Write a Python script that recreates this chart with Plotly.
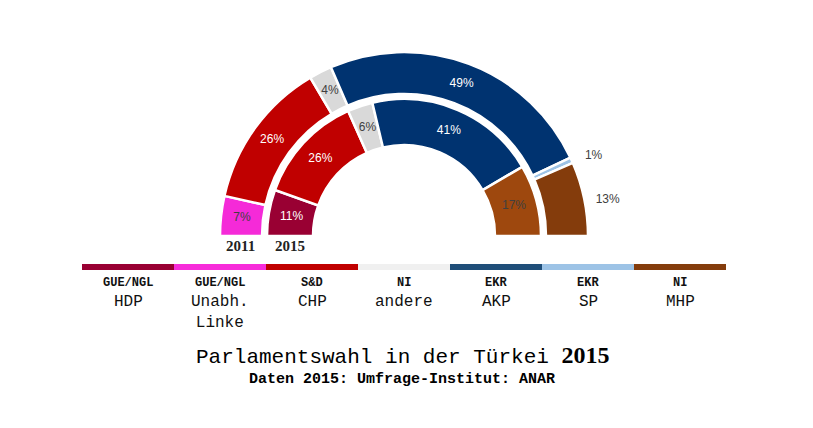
import plotly.graph_objects as go

# ---------------- data ----------------
parties_2011 = ["Unabh. Linke", "CHP", "andere", "AKP", "SP", "MHP"]
values_2011 = [7, 26, 4, 49, 1, 13]
colors_2011 = ["#F52AD8", "#C00000", "#D9D9D9", "#003370", "#9DC3E6", "#843C0C"]

parties_2015 = ["HDP", "CHP", "andere", "AKP", "MHP"]
values_2015 = [11, 26, 6, 41, 17]
colors_2015 = ["#990033", "#C00000", "#D9D9D9", "#003370", "#9E480E"]

legend_groups = ["GUE/NGL", "GUE/NGL", "S&D", "NI", "EKR", "EKR", "NI"]
legend_names = ["HDP", "Unabh.<br>Linke", "CHP", "andere", "AKP", "SP", "MHP"]
legend_colors = ["#990033", "#F72CDA", "#C00000", "#F0F0F0", "#1F4E79", "#9DC3E6", "#843C0C"]

title_text = "Parlamentswahl in der Türkei"
title_year = "2015"
subtitle_text = "Daten 2015: Umfrage-Institut: ANAR"
ring_labels = ["2011", "2015"]

# ---------------- layout constants ----------------
W, H = 813, 428
MONO = "'Courier New', 'Liberation Mono', monospace"
SERIF = "'Times New Roman', 'Liberation Serif', serif"
SANS = "Arial, 'Liberation Sans', sans-serif"

CX, CY = 404, 236          # centre of the half rings (px)
R_MAX = 226                # radial range (1 unit = 1 px)
OUT_IN, OUT_OUT = 142, 184
IN_IN, IN_OUT = 91, 137
R_OUTSIDE = 208


def arcs(values):
    total = float(sum(values))
    start = 0.0
    mids, widths = [], []
    for v in values:
        w = v / total * 180.0
        mids.append(start + w / 2.0)
        widths.append(w)
        start += w
    return mids, widths


fig = go.Figure()

dark = "#404040"
light_text = {"#D9D9D9", "#F52AD8", "#9E480E", "#843C0C", "#9DC3E6"}

for values, colors, r_in, r_out, outside in [
    (values_2011, colors_2011, OUT_IN, OUT_OUT, {4, 5}),
    (values_2015, colors_2015, IN_IN, IN_OUT, set()),
]:
    mids, widths = arcs(values)
    n = len(values)
    fig.add_trace(go.Barpolar(
        r=[r_out - r_in] * n, base=[r_in] * n, theta=mids, width=widths,
        marker=dict(color=colors, line=dict(color="white", width=2.5)),
        hoverinfo="skip", showlegend=False,
    ))
    rs, tcols, tpos = [], [], []
    for i, c in enumerate(colors):
        if i in outside:
            rs.append(R_OUTSIDE)
            tcols.append(dark)
            tpos.append("bottom center")
        else:
            rs.append((r_in + r_out) / 2.0)
            tcols.append(dark if c in light_text else "white")
            tpos.append("middle center")
    fig.add_trace(go.Scatterpolar(
        r=rs, theta=mids, mode="text", cliponaxis=False,
        text=[f"{v}%" for v in values], textposition=tpos,
        textfont=dict(family=SANS, size=12, color=tcols),
        hoverinfo="skip", showlegend=False,
    ))

# legend colour bar
fig.add_trace(go.Bar(
    x=list(range(len(legend_colors))), y=[1] * len(legend_colors),
    marker=dict(color=legend_colors, line=dict(width=0)),
    xaxis="x", yaxis="y", hoverinfo="skip", showlegend=False,
))

fig.update_layout(
    width=W, height=H,
    margin=dict(l=0, r=0, t=0, b=0),
    paper_bgcolor="white", plot_bgcolor="white",
    bargap=0,
    polar=dict(
        domain=dict(x=[(CX - R_MAX) / W, (CX + R_MAX) / W],
                    y=[(H - CY) / H, (H - CY + R_MAX) / H]),
        sector=[0, 180],
        bgcolor="rgba(0,0,0,0)",
        bargap=0,
        angularaxis=dict(rotation=180, direction="clockwise", visible=False),
        radialaxis=dict(range=[0, R_MAX], visible=False),
    ),
    xaxis=dict(domain=[82 / W, 726 / W], range=[-0.5, len(legend_colors) - 0.5],
               visible=False, fixedrange=True),
    yaxis=dict(domain=[(H - 270) / H, (H - 264) / H], range=[0, 1],
               visible=False, fixedrange=True),
)

annotations = []
for i, (g, nme) in enumerate(zip(legend_groups, legend_names)):
    annotations.append(dict(
        x=i, xref="x", y=(H - 283) / H, yref="paper", text=f"<b>{g}</b>",
        showarrow=False, xanchor="center", yanchor="middle",
        font=dict(family=MONO, size=12, color="#111111"),
    ))
    annotations.append(dict(
        x=i, xref="x", y=(H - 291) / H, yref="paper", text=nme,
        showarrow=False, xanchor="center", yanchor="top",
        font=dict(family=MONO, size=16, color="#111111"),
    ))

# ring year labels
for lbl, xp in zip(ring_labels, [240, 290]):
    annotations.append(dict(
        x=xp / W, xref="paper", y=(H - 246) / H, yref="paper",
        text=f"<b>{lbl}</b>", showarrow=False, xanchor="center", yanchor="middle",
        font=dict(family=SERIF, size=15, color="#222222"),
    ))

annotations.append(dict(
    x=402 / W, xref="paper", y=(H - 355) / H, yref="paper",
    text=f"{title_text} <span style=\"font-family:'Times New Roman','Liberation Serif',serif;font-size:24px\"><b>{title_year}</b></span>",
    showarrow=False, xanchor="center", yanchor="middle",
    font=dict(family=MONO, size=21, color="#000000"),
))
annotations.append(dict(
    x=402 / W, xref="paper", y=(H - 379) / H, yref="paper",
    text=f"<b>{subtitle_text}</b>",
    showarrow=False, xanchor="center", yanchor="middle",
    font=dict(family=MONO, size=15, color="#000000"),
))

fig.update_layout(annotations=annotations)

fig.write_html("out.html", config={"displayModeBar": False, "staticPlot": True},
               post_script="document.body.style.margin='0px';")
